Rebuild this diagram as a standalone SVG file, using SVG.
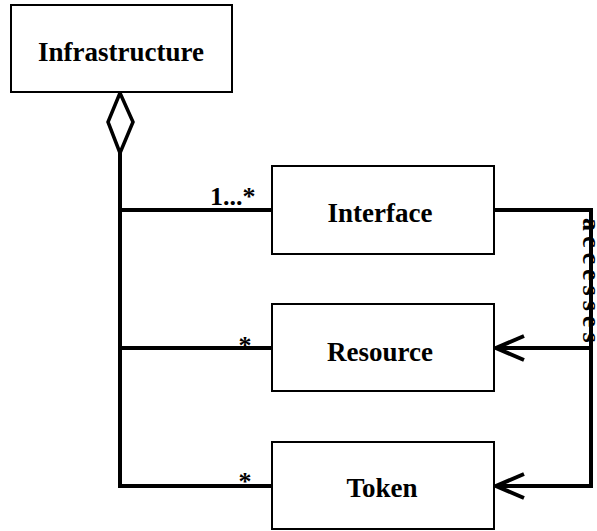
<svg xmlns="http://www.w3.org/2000/svg" width="597" height="531" viewBox="0 0 597 531">
<defs>
<style>
.box{fill:#fff;stroke:#000;stroke-width:2}
.lbl{font-family:"Liberation Serif","Times New Roman",serif;font-weight:bold;font-size:27px;fill:#000;text-anchor:middle}
.mult{font-family:"Liberation Serif","Times New Roman",serif;font-weight:bold;font-size:26px;fill:#000}
.conn{fill:none;stroke:#000;stroke-width:4}
</style>
<marker id="open" viewBox="0 0 32 28" refX="30" refY="14" markerWidth="32" markerHeight="28" markerUnits="userSpaceOnUse" orient="auto" overflow="visible">
<path d="M2,2 L30,14 L2,26" fill="none" stroke="#000" stroke-width="4"/>
</marker>
</defs>
<rect width="597" height="531" fill="#fff"/>
<g id="connectors">
<polygon points="120,93 133,122 120,153 108,122" fill="#fff" stroke="#000" stroke-width="3.5"/>
<path class="conn" d="M120,153 V486 H272"/>
<path class="conn" d="M120,210 H272"/>
<path class="conn" d="M120,348 H272"/>
<path class="conn" d="M494,210 H591 V486 H496" marker-end="url(#open)"/>
<path class="conn" d="M591,348 H496" marker-end="url(#open)"/>
<text class="mult" x="210" y="205">1...*</text>
<text class="mult" x="245" y="354" text-anchor="middle" font-size="40">*</text>
<text class="mult" x="245" y="490" text-anchor="middle" font-size="40">*</text>
<text class="mult" transform="translate(583,218) rotate(90)" font-size="30" font-weight="normal" letter-spacing="5">accesses</text>
</g>
<g id="infrastructure">
<rect class="box" x="11" y="5" width="221" height="87"/>
<text class="lbl" x="121" y="61">Infrastructure</text>
</g>
<g id="interface">
<rect class="box" x="272" y="166" width="222" height="88"/>
<text class="lbl" x="380" y="222">Interface</text>
</g>
<g id="resource">
<rect class="box" x="272" y="304" width="222" height="87"/>
<text class="lbl" x="380" y="361">Resource</text>
</g>
<g id="token">
<rect class="box" x="272" y="442" width="222" height="87"/>
<text class="lbl" x="382" y="497">Token</text>
</g>
</svg>
